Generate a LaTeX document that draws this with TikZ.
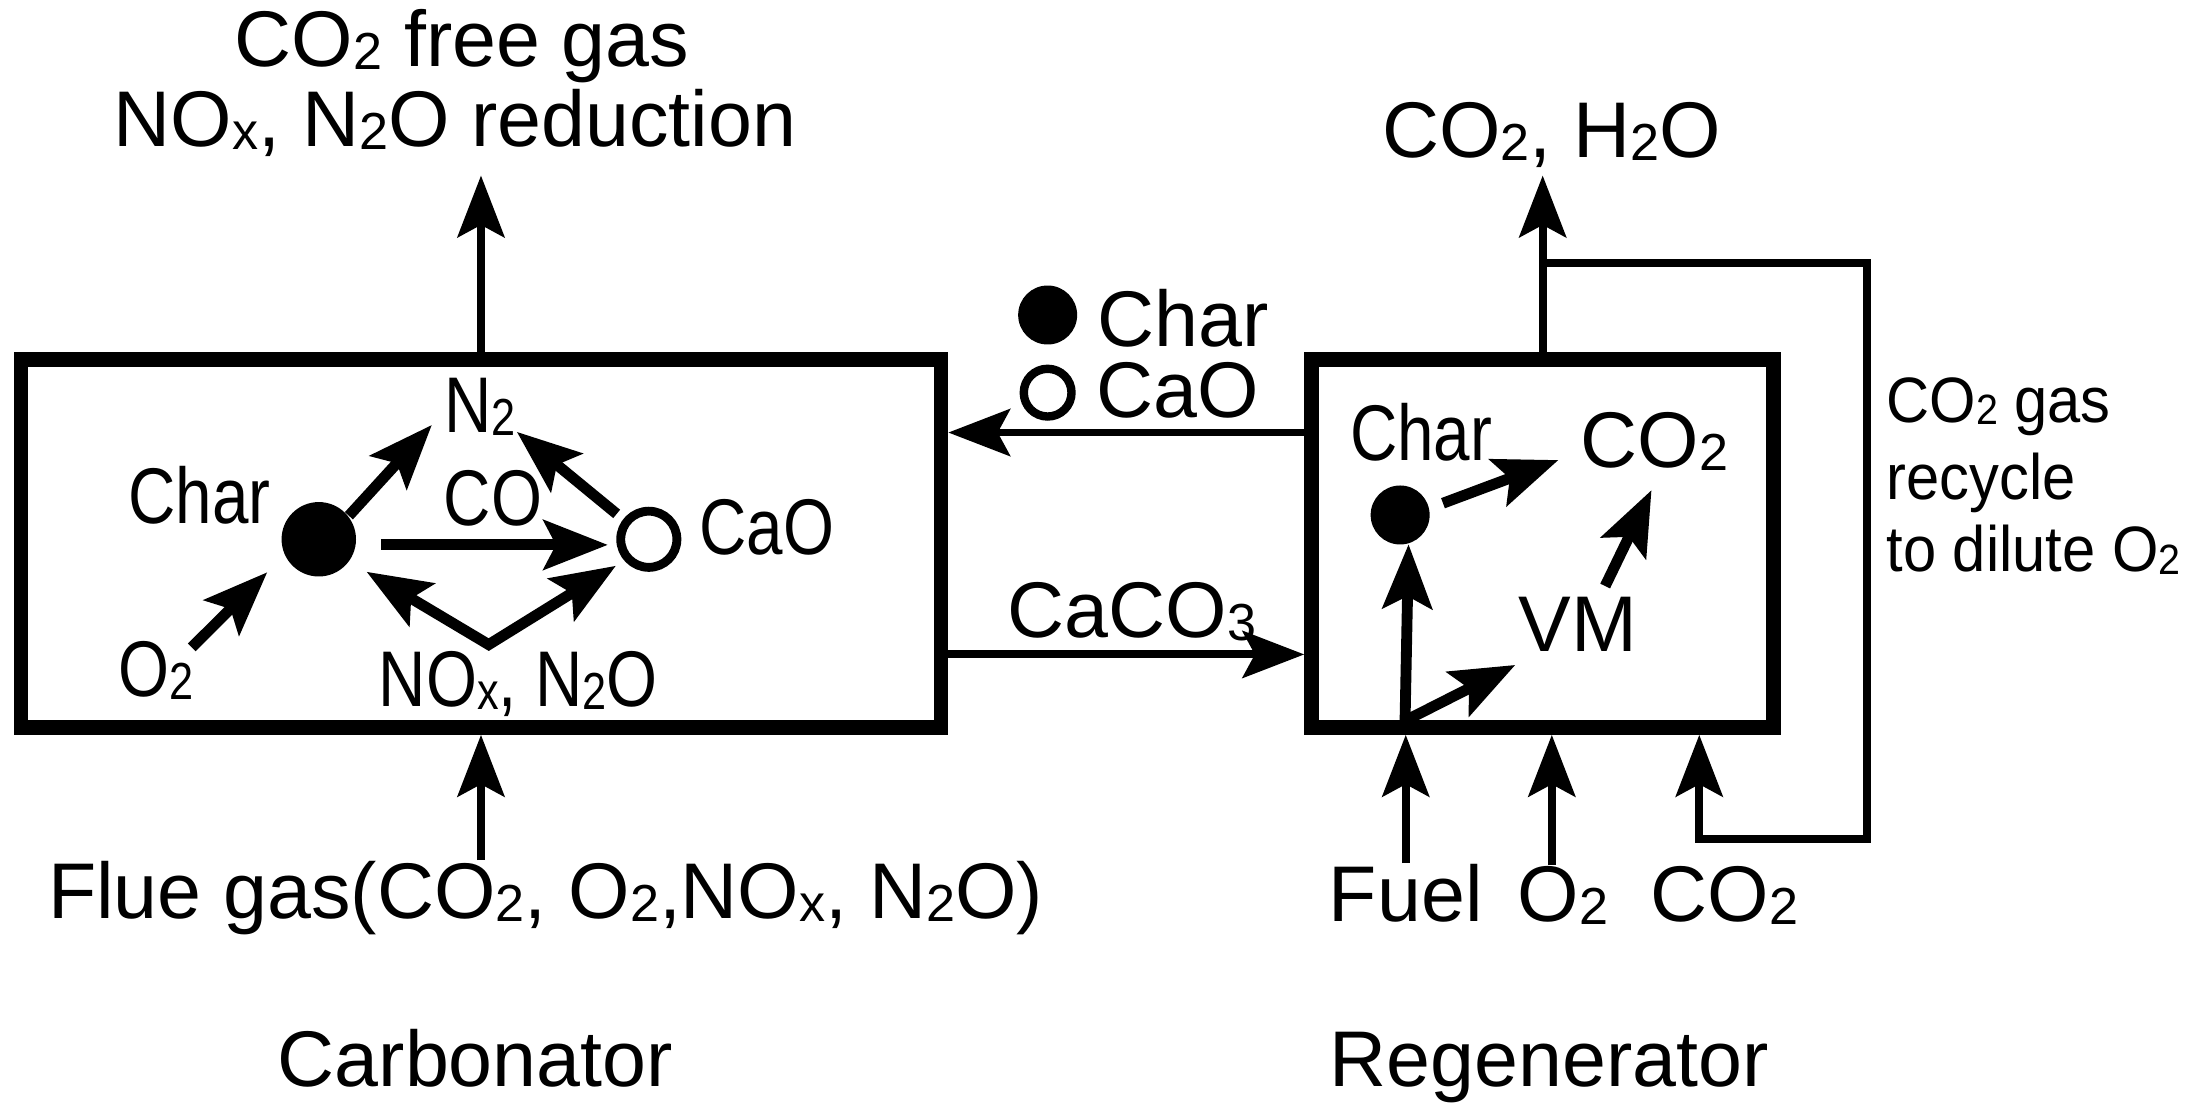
\documentclass[tikz,border=0pt]{standalone}
\usepackage{fontspec}
\setmainfont{Liberation Sans}
\newfontfamily\narrowfont[FakeStretch=0.83]{Liberation Sans}
\newfontfamily\slimfont[FakeStretch=0.93]{Liberation Sans}
\usetikzlibrary{arrows.meta}
\newcommand{\chsub}[1]{\raisebox{-0.04em}{\scalebox{0.66}{#1}}}
\tikzset{
  reactor/.style={draw, line width=3pt, inner sep=0pt, minimum height=2.62cm},
  flow/.style={line width=1.6pt, -{Stealth[length=12.5pt,width=9.5pt,inset=2.5pt]}},
  react/.style={line width=2.2pt, -{Stealth[length=13pt,width=10pt,inset=2.5pt]}},
  lbl/.style={inner sep=0pt, anchor=base, font=\fontsize{16}{19}\selectfont},
  inlbl/.style={lbl, font=\narrowfont\fontsize{16}{19}\selectfont},
  notelbl/.style={inner sep=0pt, anchor=base west, font=\slimfont\fontsize{13}{15}\selectfont},
  particle/.style={circle, fill, inner sep=0pt},
  hollow/.style={circle, draw, line width=1.8pt, inner sep=0pt}
}
\begin{document}
\begin{tikzpicture}
\useasboundingbox (0,0) rectangle (15.68,7.90);

% reactors
\node[reactor, minimum width=6.55cm] (carb) at (3.425,4.03) {};
\node[reactor, minimum width=3.29cm] (regen) at (10.985,4.03) {};
\node[lbl] (carbname) at (3.385,0.16) {Carbonator};
\node[lbl] (regenname) at (11.03,0.16) {Regenerator};

% carbonator
\node[particle, minimum size=0.53cm] (chardot) at (2.27,4.06) {};
\node[hollow, minimum size=0.40cm] (cao) at (4.62,4.06) {};
\node[inlbl] (charlbl) at (1.42,4.175) {Char};
\node[inlbl] (n2) at (3.42,4.82) {N\chsub{2}};
\node[inlbl] (co) at (3.51,4.16) {CO};
\node[inlbl] (caolbl) at (5.46,3.95) {CaO};
\node[inlbl] (o2) at (1.11,2.94) {O\chsub{2}};
\node[inlbl] (nox) at (3.69,2.87) {NO\chsub{x}, N\chsub{2}O};
\coordinate (noxtop) at ([shift={(-0.21,0.44)}]nox.base);
\draw[react] (chardot.38) -- ([shift={(-0.345,0.054)}]n2.base);
\draw[react, shorten <=0.06cm] (cao.142) -- ([shift={(0.26,0.005)}]n2.base);
\draw[react, shorten <=0.17cm, shorten >=0.06cm] ([yshift=-0.04cm]chardot.east) -- ([yshift=-0.04cm]cao.west);
\draw[react, {Stealth[length=13pt,width=10pt,inset=2.5pt]}-{Stealth[length=13pt,width=10pt,inset=2.5pt]}, shorten <=0.14cm, shorten >=0.07cm] (chardot.-36) -- (noxtop) -- (cao.221);
\draw[react, shorten >=0.17cm] ([shift={(0.255,0.35)}]o2.base) -- (chardot.205);

% regenerator
\node[particle, minimum size=0.42cm] (rchar) at (9.97,4.233) {};
\node[inlbl] (rcharlbl) at (10.12,4.624) {Char};
\node[lbl] (rco2) at (11.78,4.57) {CO\chsub{2}};
\node[lbl] (vm) at (11.235,3.26) {VM};
\coordinate (fueljn) at ([shift={(-0.98,0.1)}]regen.south);
\draw[react, shorten <=0.1cm] (rchar.13) -- ([shift={(-0.683,0.054)}]rco2.base);
\draw[react] ([shift={(0.195,0.467)}]vm.base) -- ([shift={(-0.02,-0.16)}]rco2.base);
\draw[react] (fueljn) -- (rchar.-74);
\draw[react] (fueljn) -- ([shift={(-0.445,-0.095)}]vm.base);

% solids loop
\node[particle, minimum size=0.42cm] (keychar) at (7.46,5.657) {};
\node[lbl, anchor=base west] (keycharlbl) at (7.81,5.43) {Char};
\node[hollow, line width=1.7pt, minimum size=0.34cm] (keycao) at (7.46,5.104) {};
\node[lbl, anchor=base west] (keycaolbl) at (7.80,4.93) {CaO};
\draw[flow] ([yshift=0.79cm]regen.west) -- ([yshift=0.79cm]carb.east);
\draw[flow] ([yshift=-0.79cm]carb.east) -- ([yshift=-0.79cm]regen.west);
\node[lbl, anchor=base west] (caco3) at (7.17,3.364) {CaCO\chsub{3}};

% gas streams
\node[lbl] (carbout1) at (3.29,7.425) {CO\chsub{2} free gas};
\node[lbl] (carbout2) at (3.24,6.855) {NO\chsub{x}, N\chsub{2}O reduction};
\coordinate (carbtop) at (3.425,6.65);
\draw[flow] (carb.north) -- (carbtop);
\node[lbl] (flue) at (3.885,1.36) {Flue gas(CO\chsub{2}, O\chsub{2},NO\chsub{x}, N\chsub{2}O)};
\draw[flow] (carb.south |- flue.north) -- (carb.south);

\node[lbl] (regout) at (11.05,6.78) {CO\chsub{2}, H\chsub{2}O};
\coordinate (regtop) at (10.985,6.65);
\draw[flow] (regen.north) -- (regtop);
\coordinate (split) at (10.985,6.03);
\draw[flow] (split) -| (13.295,1.924) -| ([xshift=1.115cm]regen.south);
\node[lbl] (fuel) at (10.01,1.34) {Fuel};
\node[lbl] (o2in) at (11.13,1.34) {O\chsub{2}};
\node[lbl] (co2in) at (12.28,1.34) {CO\chsub{2}};
\coordinate (o2port) at ([xshift=0.065cm]regen.south);
\draw[flow] (fuel.north) -- (fuel.north |- regen.south);
\draw[flow] (o2port |- o2in.north) -- (o2port);
\node[notelbl] (note1) at (13.427,4.895) {CO\chsub{2} gas};
\node[notelbl] (note2) at (13.427,4.34) {recycle};
\node[notelbl] (note3) at (13.427,3.83) {to dilute O\chsub{2}};
\end{tikzpicture}
\end{document}
